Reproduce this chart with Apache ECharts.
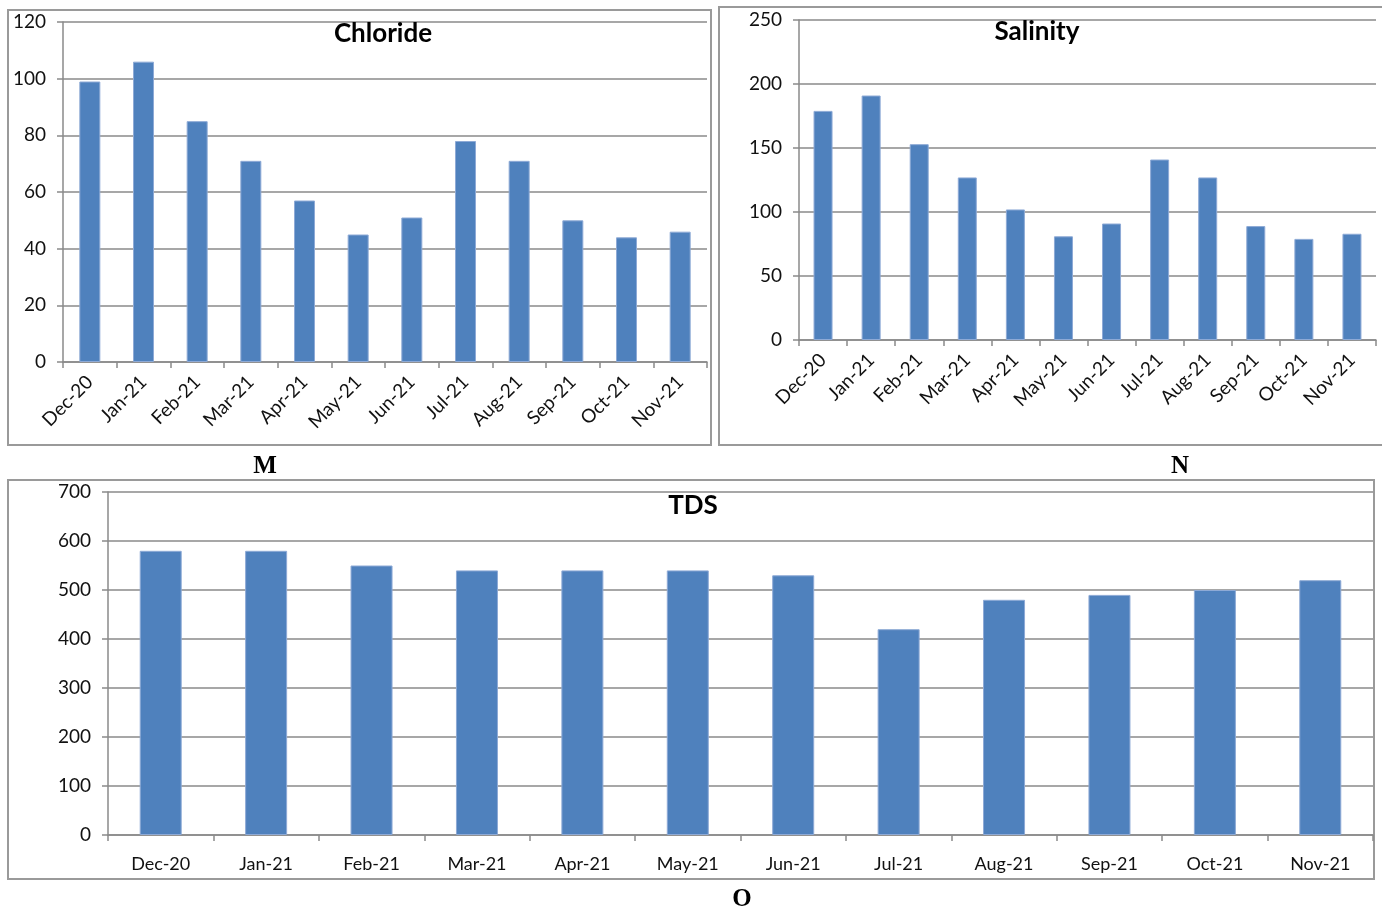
<!DOCTYPE html>
<html>
<head>
<meta charset="utf-8">
<script src="https://cdn.jsdelivr.net/npm/echarts@6/dist/echarts.min.js"></script>
<style>
  html, body { margin: 0; padding: 0; background: #fff; }
  #chart { width: 1382px; height: 912px; }
</style>
</head>
<body>
<div id="chart"></div>
<script>
// months shared by all three panels
const months = ["Dec-20", "Jan-21", "Feb-21", "Mar-21", "Apr-21", "May-21",
  "Jun-21", "Jul-21", "Aug-21", "Sep-21", "Oct-21", "Nov-21"];

const chloride = [99, 106, 85, 71, 57, 45, 51, 78, 71, 50, 44, 46];
const salinity = [179, 191, 153, 127, 102, 81, 91, 141, 127, 89, 79, 83];
const tds = [580, 580, 550, 540, 540, 540, 530, 420, 480, 490, 500, 520];

const panelTitles = ["Chloride", "Salinity", "TDS"];
const panelLetters = ["M", "N", "O"];

const font = "Lato, 'Open Sans', sans-serif";
const gridColor = "#8a8a8a";
const barColor = "#4f81bd";

let myChart = echarts.init(document.getElementById("chart"));

function yAxis(idx, max, step) {
  return {
    gridIndex: idx,
    type: "value",
    min: 0,
    max: max,
    interval: step,
    axisLine: { show: true, lineStyle: { color: gridColor, width: 1.5 } },
    axisTick: { show: true, length: 6, lineStyle: { color: gridColor, width: 1.5 } },
    splitLine: { show: true, lineStyle: { color: gridColor, width: 1.5 } },
    axisLabel: { color: "#111", fontSize: 19, fontFamily: font, margin: 17 },
  };
}

function xAxis(idx, rotated) {
  return {
    gridIndex: idx,
    type: "category",
    data: months,
    axisLine: { show: true, lineStyle: { color: gridColor, width: 1.5 } },
    axisTick: { show: true, length: 6, lineStyle: { color: gridColor, width: 1.5 } },
    axisLabel: rotated
      ? { rotate: 45, interval: 0, color: "#111", fontSize: 19, fontFamily: font, margin: 17 }
      : { interval: 0, color: "#111", fontSize: 18, fontFamily: font, margin: 20 },
  };
}

function barSeries(idx, data, width) {
  return {
    type: "bar",
    xAxisIndex: idx,
    yAxisIndex: idx,
    data: data,
    barWidth: width,
    itemStyle: { color: barColor, borderColor: "#8eaad6", borderWidth: 1 },
  };
}

// grey frames around each panel
function frame(x, y, w, h) {
  return {
    type: "rect",
    shape: { x: x, y: y, width: w, height: h },
    style: { fill: "none", stroke: "#9a9a9a", lineWidth: 2 },
    z: 0,
  };
}

function letter(text, x, y) {
  return {
    type: "text",
    x: x,
    y: y,
    style: {
      text: text,
      font: "bold 25px 'Liberation Serif', 'DejaVu Serif', serif",
      fill: "#000",
      textAlign: "center",
      textVerticalAlign: "middle",
    },
  };
}

const titleStyle = { fontSize: 26, fontWeight: "bold", fontFamily: font, color: "#000" };

myChart.setOption({
  animation: false,
  title: [
    { text: panelTitles[0], left: 378, top: 16, textAlign: "center", textStyle: titleStyle },
    { text: panelTitles[1], left: 1032, top: 14, textAlign: "center", textStyle: titleStyle },
    { text: panelTitles[2], left: 688, top: 488, textAlign: "center", textStyle: titleStyle },
  ],
  grid: [
    { left: 63, top: 22, width: 644, height: 340, outerBoundsMode: "none" },
    { left: 799, top: 20, width: 577, height: 320, outerBoundsMode: "none" },
    { left: 108, top: 492, width: 1265, height: 343, outerBoundsMode: "none" },
  ],
  xAxis: [xAxis(0, true), xAxis(1, true), xAxis(2, false)],
  yAxis: [yAxis(0, 120, 20), yAxis(1, 250, 50), yAxis(2, 700, 100)],
  series: [
    barSeries(0, chloride, 21),
    barSeries(1, salinity, 19),
    barSeries(2, tds, 42),
  ],
  graphic: [
    frame(8, 10, 703, 435),
    frame(719, 7, 664, 438),
    frame(8, 480, 1366, 399),
    letter(panelLetters[0], 265, 467),
    letter(panelLetters[1], 1180, 467),
    letter(panelLetters[2], 742, 900),
  ],
});
</script>
</body>
</html>
